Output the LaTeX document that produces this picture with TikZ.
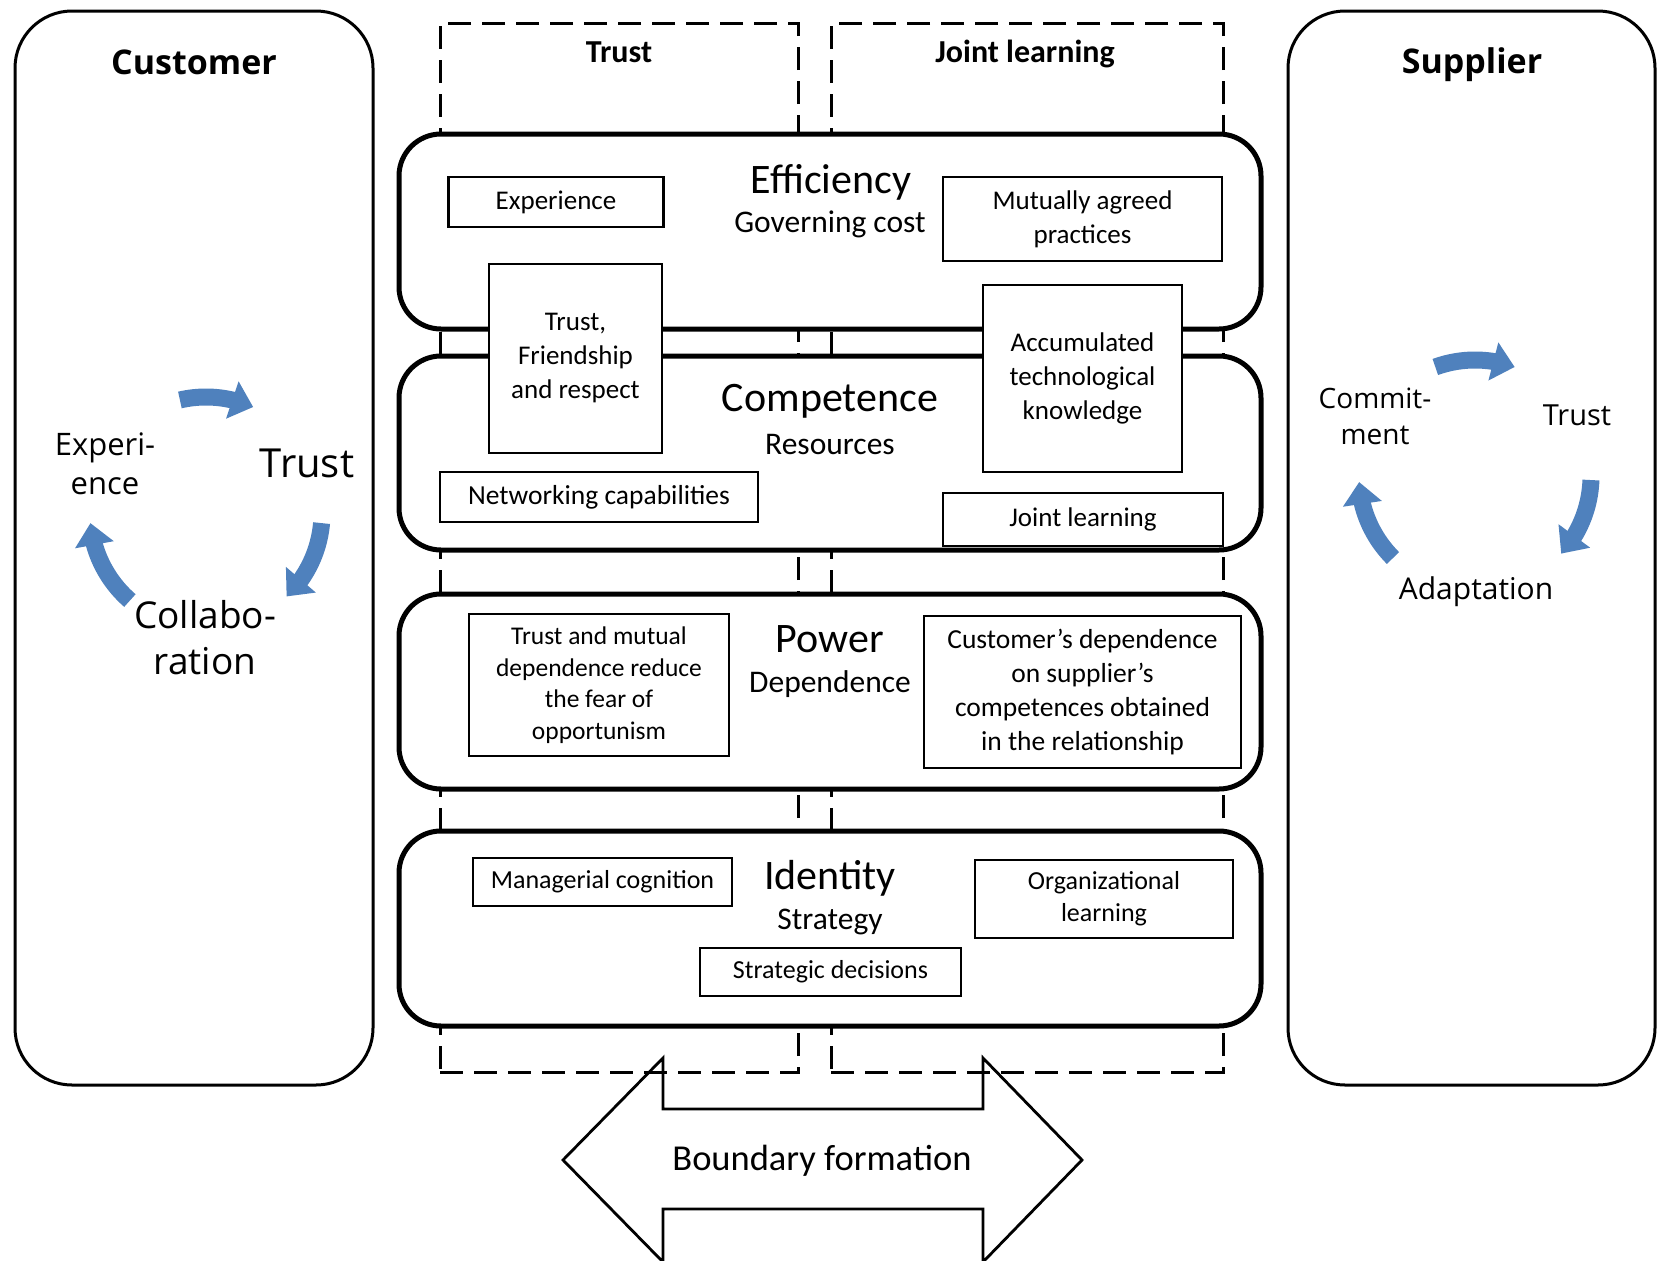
\documentclass[tikz,border=0pt]{standalone}
\usepackage{fontspec}
\setmainfont{Carlito}
\newfontfamily\sidefont{Open Sans}
\usetikzlibrary{arrows.meta,bending}
\newcommand\fsz[2]{\fontsize{#1}{#2}\selectfont}
\definecolor{cycblue}{HTML}{4F81BD}
\begin{document}
\begin{tikzpicture}[x=1pt,y=-1pt,
  band/.style={draw, line width=5pt, rounded corners=42pt, fill=white, inner sep=0pt},
  item/.style={draw, line width=2.7pt, fill=white, align=center, inner sep=0pt, font=\fsz{27}{34}},
  dashbox/.style={draw, line width=3pt, dash pattern=on 23pt off 11pt, inner sep=0pt},
  sidebox/.style={draw, line width=3pt, rounded corners=57pt, inner sep=0pt},
  cyc/.style={line width=17pt, color=cycblue, -{Triangle[length=22pt,width=38pt]}},
  lbl/.style={inner sep=0pt, align=center}
]
\fill[white] (0,0) rectangle (1658,1261);
\useasboundingbox (0,0) rectangle (1658,1261);

% dashed columns
\node[dashbox, minimum width=358pt, minimum height=1049pt] (dl) at (619,547.5) {};
\node[dashbox, minimum width=392pt, minimum height=1049pt] (dr) at (1027,547.5) {};
\node[lbl, font=\bfseries\fsz{32}{36}] (htrust) at (619,52) {Trust};
\node[lbl, font=\bfseries\fsz{32}{36}] (hjl) at (1025,54) {Joint learning};

% side boxes
\node[sidebox, minimum width=358pt, minimum height=1074pt] (cust) at (194,548) {};
\node[sidebox, minimum width=367pt, minimum height=1074pt] (supp) at (1471.5,548) {};
\node[lbl, font=\sidefont\bfseries\fsz{34}{40}] (custt) at (194,62) {Customer};
\node[lbl, font=\sidefont\bfseries\fsz{34}{40}] (suppt) at (1472,65) {Supplier};

% left cycle
\coordinate (lc) at (206,513);
\draw[cyc] (lc) ++(103:116pt) arc[start angle=103, end angle=66, radius=116pt];
\draw[cyc] (lc) ++(-5:116pt) arc[start angle=-5, end angle=-46, radius=116pt];
\draw[cyc] (lc) ++(229:116pt) arc[start angle=229, end angle=185, radius=116pt];
\node[lbl, font=\sidefont\fsz{31}{39}] (lexp) at (105,464) {Experi-\\ence};
\node[lbl, font=\sidefont\fsz{40}{46}] (ltrust) at (307,463) {Trust};
\node[lbl, font=\sidefont\fsz{37}{46}] (lcol) at (205,638) {Collabo-\\ration};

% right cycle
\coordinate (rc) at (1475,476);
\draw[cyc] (rc) ++(110:116pt) arc[start angle=110, end angle=70, radius=116pt];
\draw[cyc] (rc) ++(-2:116pt) arc[start angle=-2, end angle=-42, radius=116pt];
\draw[cyc] (rc) ++(225:116pt) arc[start angle=225, end angle=183, radius=116pt];
\node[lbl, font=\sidefont\fsz{28}{36}] (rcom) at (1375,416) {Commit-\\ment};
\node[lbl, font=\sidefont\fsz{29}{36}] (rtrust) at (1577,415) {Trust};
\node[lbl, font=\sidefont\fsz{30}{36}] (radap) at (1476,592) {Adaptation};

% bands
\node[band, minimum width=862pt, minimum height=195pt] (eff) at (830,231.5) {};
\node[band, minimum width=862pt, minimum height=194pt] (comp) at (830,453) {};
\node[band, minimum width=862pt, minimum height=195pt] (pow) at (830,691.5) {};
\node[band, minimum width=862pt, minimum height=195pt] (iden) at (830,928.5) {};

\node[lbl, font=\fsz{42}{46}] (efft) at (831,182) {Efficiency};
\node[lbl, font=\fsz{31.5}{36}] (effs) at (830,224) {Governing cost};
\node[lbl, font=\fsz{42}{46}] (compt) at (830,401) {Competence};
\node[lbl, font=\fsz{31.5}{36}] (comps) at (830,445) {Resources};
\node[lbl, font=\fsz{42}{46}] (powt) at (830,639) {Power};
\node[lbl, font=\fsz{31.5}{36}] (pows) at (830,684) {Dependence};
\node[lbl, font=\fsz{42}{46}] (ident) at (830,878) {Identity};
\node[lbl, font=\fsz{31.5}{36}] (idens) at (830,922) {Strategy};

% items
\node[item, minimum width=215pt, minimum height=50pt] (exp) at (556,202) {Experience};
\node[item, minimum width=279pt, minimum height=84pt] (mut) at (1082.5,219) {Mutually agreed\\practices};
\node[item, minimum width=173pt, minimum height=189pt] (tfr) at (575.5,358.5) {Trust,\\Friendship\\and respect};
\node[item, minimum width=199pt, minimum height=187pt] (acc) at (1082.5,378.5) {Accumulated\\technological\\knowledge};
\node[item, minimum width=318pt, minimum height=50pt, font=\fsz{27.5}{34}] (net) at (599,497) {Networking capabilities};
\node[item, minimum width=280pt, minimum height=53pt] (jl) at (1083,519.5) {Joint learning};
\node[item, minimum width=260pt, minimum height=142pt, font=\fsz{25.5}{31.5}] (tm) at (599,685) {Trust and mutual\\dependence reduce\\the fear of\\opportunism};
\node[item, minimum width=317pt, minimum height=152pt, font=\fsz{27.5}{34}] (cd) at (1082.5,692) {Customer’s dependence\\on supplier’s\\competences obtained\\in the relationship};
\node[item, minimum width=259pt, minimum height=48pt, font=\fsz{26}{32}] (mc) at (602.5,882) {Managerial cognition};
\node[item, minimum width=258pt, minimum height=78pt, font=\fsz{26}{32}] (ol) at (1104,899) {Organizational\\learning};
\node[item, minimum width=261pt, minimum height=48pt, font=\fsz{26}{32}] (sd) at (830.5,972) {Strategic decisions};

% boundary formation arrow
\draw[line width=2.8pt, line join=miter] (563,1160) -- (663,1058) -- (663,1109) -- (983,1109) -- (983,1058) -- (1082,1160) -- (983,1262) -- (983,1209) -- (663,1209) -- (663,1262) -- cycle;
\node[lbl, font=\fsz{36.5}{40}] (bf) at (822,1161) {Boundary formation};
\end{tikzpicture}
\end{document}
